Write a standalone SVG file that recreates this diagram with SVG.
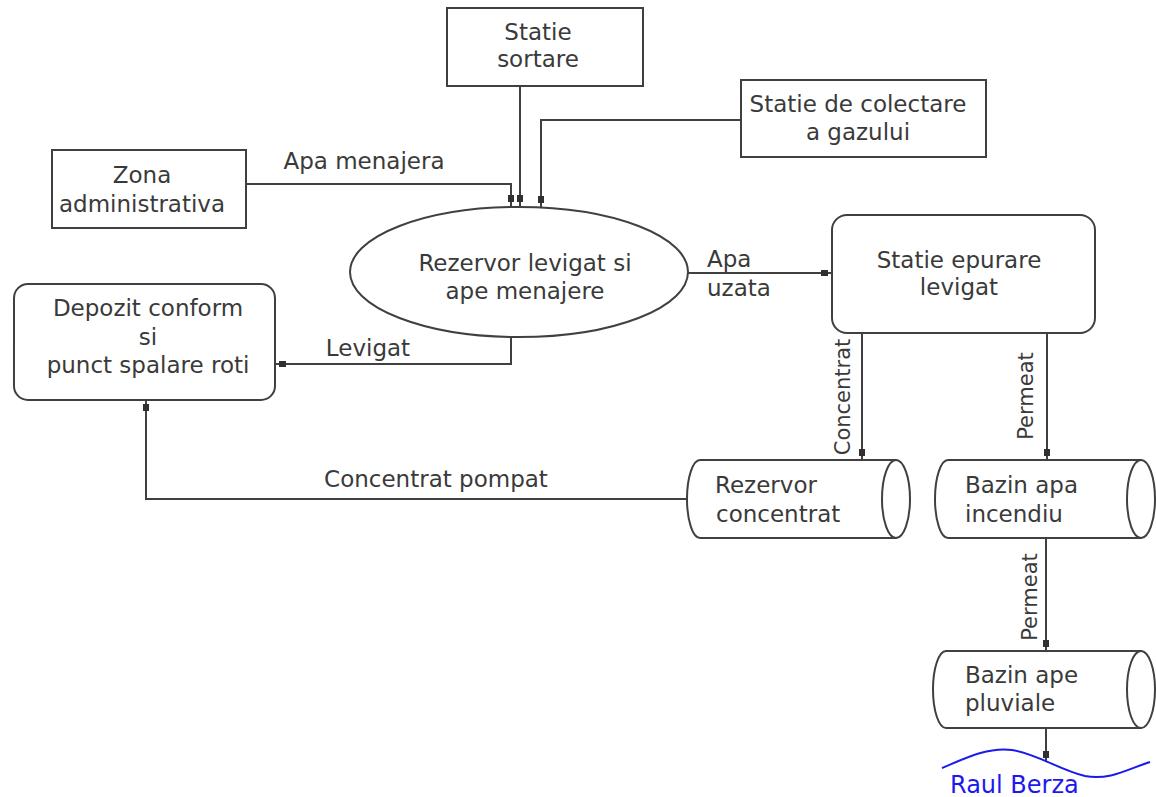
<svg xmlns="http://www.w3.org/2000/svg" width="1156" height="797" viewBox="0 0 1156 797">
<style>
  .box{fill:#ffffff;stroke:#404040;stroke-width:2}
  .t{font-family:"DejaVu Sans","Liberation Sans",sans-serif;font-size:23px;fill:#3a3a3a}
  .c{text-anchor:middle}
  .r{font-size:21px}
  .ln{fill:none;stroke:#404040;stroke-width:2;marker-end:url(#dot)}
  .river{fill:none;stroke:#1a1aee;stroke-width:2}
</style>
<defs>
  <marker id="dot" markerUnits="userSpaceOnUse" markerWidth="20" markerHeight="20" refX="11" refY="0" orient="auto" overflow="visible">
    <rect x="0" y="-3" width="7" height="6" fill="#303030"/>
  </marker>
</defs>
<rect width="1156" height="797" fill="#ffffff"/>

<g id="connectors">
  <path class="ln" d="M246,184 H511 V206"/>
  <path class="ln" d="M520,86 V206"/>
  <path class="ln" d="M741,120 H541 V207"/>
  <path class="ln" d="M511,338 V364 H275"/>
  <path class="ln" d="M688,273 H832"/>
  <path class="ln" d="M862,333 V460"/>
  <path class="ln" d="M1047,333 V460"/>
  <path class="ln" d="M687,499 H146 V400"/>
  <path class="ln" d="M1046,538 V651"/>
  <path class="ln" d="M1046,728 V762"/>
</g>

<g id="statie-sortare">
  <rect class="box" x="447" y="8" width="196" height="78"/>
  <text class="t c" x="538" y="40">Statie</text>
  <text class="t c" x="538" y="67">sortare</text>
</g>

<g id="statie-colectare">
  <rect class="box" x="741" y="80" width="245" height="77"/>
  <text class="t c" x="858" y="112">Statie de colectare</text>
  <text class="t c" x="858" y="140">a gazului</text>
</g>

<g id="zona-administrativa">
  <rect class="box" x="52" y="150" width="194" height="78"/>
  <text class="t c" x="142" y="183">Zona</text>
  <text class="t c" x="142" y="212">administrativa</text>
</g>

<g id="rezervor-levigat">
  <ellipse class="box" cx="519" cy="272" rx="169" ry="65"/>
  <text class="t c" x="525" y="271">Rezervor levigat si</text>
  <text class="t c" x="525" y="299">ape menajere</text>
</g>

<g id="depozit">
  <rect class="box" x="14" y="284" width="261" height="116" rx="14" ry="14"/>
  <text class="t c" x="148" y="316">Depozit conform</text>
  <text class="t c" x="148" y="345">si</text>
  <text class="t c" x="148" y="373">punct spalare roti</text>
</g>

<g id="statie-epurare">
  <rect class="box" x="832" y="215" width="263" height="118" rx="15" ry="15"/>
  <text class="t c" x="959" y="268">Statie epurare</text>
  <text class="t c" x="959" y="295">levigat</text>
</g>

<g id="rezervor-concentrat">
  <path class="box" d="M700,460 H896 V538 H700 A13,39 0 0 1 700,460 Z"/>
  <ellipse class="box" cx="896" cy="499" rx="14" ry="39"/>
  <text class="t" x="715" y="493">Rezervor</text>
  <text class="t" x="716" y="522">concentrat</text>
</g>

<g id="bazin-incendiu">
  <path class="box" d="M948,460 H1141 V538 H948 A13,39 0 0 1 948,460 Z"/>
  <ellipse class="box" cx="1141" cy="499" rx="14" ry="39"/>
  <text class="t" x="965" y="493">Bazin apa</text>
  <text class="t" x="965" y="522">incendiu</text>
</g>

<g id="bazin-pluviale">
  <path class="box" d="M946,651 H1141 V728 H946 A13,38.5 0 0 1 946,651 Z"/>
  <ellipse class="box" cx="1141" cy="689.5" rx="14" ry="38.5"/>
  <text class="t" x="965" y="683">Bazin ape</text>
  <text class="t" x="965" y="711">pluviale</text>
</g>

<g id="raul-berza">
  <path class="river" d="M942,768 C970,756 990,747 1012,750 C1035,753 1060,770 1085,776 C1110,781 1130,768 1150,762"/>
  <text class="t" x="950" y="793" style="fill:#1a1aee;font-size:24px">Raul Berza</text>
</g>

<g id="labels">
  <text class="t c" x="364" y="169">Apa menajera</text>
  <text class="t c" x="368" y="356">Levigat</text>
  <text class="t" x="707" y="267">Apa</text>
  <text class="t" x="707" y="296">uzata</text>
  <text class="t c" x="436" y="487">Concentrat pompat</text>
  <text class="t c r" transform="translate(850,397) rotate(-90)">Concentrat</text>
  <text class="t c r" transform="translate(1033,396) rotate(-90)">Permeat</text>
  <text class="t c r" transform="translate(1037,597) rotate(-90)">Permeat</text>
</g>
</svg>
